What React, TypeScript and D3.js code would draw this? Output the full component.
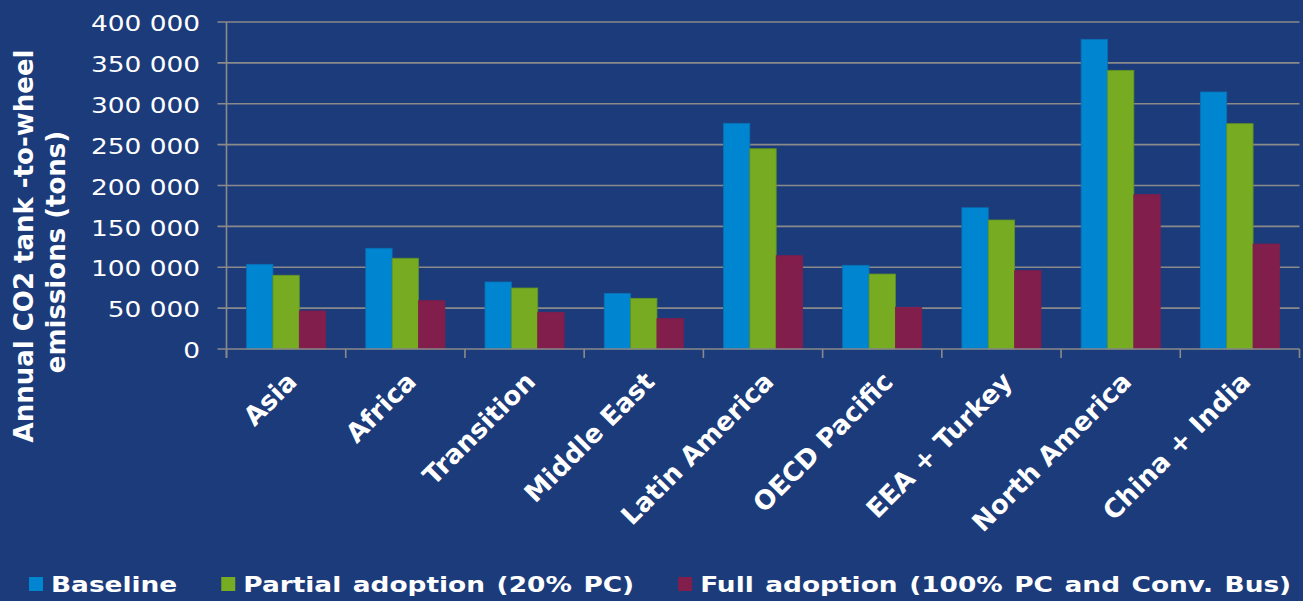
import React, { useEffect, useRef } from 'react';
import * as d3 from 'd3';

const categories = ['Asia', 'Africa', 'Transition', 'Middle East', 'Latin America', 'OECD Pacific', 'EEA + Turkey', 'North America', 'China + India'];
const seriesNames = ['Baseline', 'Partial adoption (20% PC)', 'Full adoption (100% PC and Conv. Bus)'];
const baselineValues = [103600, 123200, 82000, 68100, 276100, 102400, 172800, 378800, 314400];
const partialValues = [90200, 111000, 74600, 62000, 245000, 91700, 157800, 340900, 275600];
const fullValues = [46500, 59100, 44900, 37100, 114100, 51000, 95800, 188800, 128400];
const yTicks = [0, 50000, 100000, 150000, 200000, 250000, 300000, 350000, 400000];
const yTitleLines = ['Annual CO2 tank -to-wheel', 'emissions (tons)'];

const W = 1303;
const H = 601;
const BG = '#1C3B7B';
const COLORS = ['#0086D1', '#77AC22', '#821E4B'];
const STROKES = ['#0A6FB3', '#5F9222', '#821E4B'];
const GRID = '#8A8A8A';

export default function App() {
  const ref = useRef<SVGSVGElement>(null);

  useEffect(() => {
    const svg = d3.select(ref.current);
    svg.selectAll('*').remove();

    const left = 226.5, right = 1299.5, top = 22, bottom = 349;
    const series = [baselineValues, partialValues, fullValues];

    const x0 = d3.scaleBand<string>().domain(categories).range([left, right]).paddingInner(0).paddingOuter(0);
    const x1 = d3.scaleBand<number>().domain([0, 1, 2]).range([0, x0.bandwidth()]).paddingInner(0).paddingOuter(0.76);
    const y = d3.scaleLinear().domain([0, 400000]).range([bottom, top]);

    const fmt = d3.formatLocale({ thousands: '\u00a0', grouping: [3], decimal: '.', currency: ['', ''] }).format(',');

    svg.append('rect').attr('width', W).attr('height', H).attr('fill', BG);

    svg.append('g').selectAll('line').data(yTicks.filter(t => t > 0)).join('line')
      .attr('x1', left - 9).attr('x2', right)
      .attr('y1', d => y(d)).attr('y2', d => y(d))
      .attr('stroke', GRID).attr('stroke-width', 1.6);

    const g = svg.append('g');
    categories.forEach((c, i) => {
      series.forEach((s, j) => {
        const v = s[i];
        g.append('rect')
          .attr('x', (x0(c) as number) + (x1(j) as number))
          .attr('y', y(v))
          .attr('width', x1.bandwidth())
          .attr('height', y(0) - y(v))
          .attr('fill', COLORS[j])
          .attr('stroke', STROKES[j])
          .attr('stroke-width', 0.8);
      });
    });

    svg.append('line').attr('x1', left).attr('x2', left).attr('y1', top).attr('y2', bottom + 9)
      .attr('stroke', GRID).attr('stroke-width', 1.6);
    svg.append('line').attr('x1', left - 9).attr('x2', right).attr('y1', bottom).attr('y2', bottom)
      .attr('stroke', GRID).attr('stroke-width', 1.6);
    const boundaries = categories.map(c => x0(c) as number).concat([right]);
    svg.append('g').selectAll('line').data(boundaries).join('line')
      .attr('x1', d => d).attr('x2', d => d).attr('y1', bottom).attr('y2', bottom + 9)
      .attr('stroke', GRID).attr('stroke-width', 1.6);

    svg.append('g').selectAll('text').data(yTicks).join('text')
      .attr('transform', d => `translate(200,${y(d) + 1.5}) scale(1.2,1)`)
      .attr('text-anchor', 'end')
      .attr('dominant-baseline', 'central')
      .attr('font-family', 'DejaVu Sans')
      .attr('font-size', 22)
      .attr('fill', '#FFFFFF')
      .text(d => fmt(d));

    svg.append('g').selectAll('text').data(categories).join('text')
      .attr('transform', d => `translate(${(x0(d) as number) + x0.bandwidth() / 2 - 1},${370}) rotate(-45)`)
      .attr('text-anchor', 'end')
      .attr('dy', '0.72em')
      .attr('font-family', 'DejaVu Sans')
      .attr('font-weight', 'bold')
      .attr('font-size', 26)
      .attr('fill', '#FFFFFF')
      .text(d => d);

    const titlePos = [[33, 246], [65, 252]];
    yTitleLines.forEach((t, i) => {
      svg.append('text')
        .attr('transform', `translate(${titlePos[i][0]},${titlePos[i][1]}) rotate(-90)`)
        .attr('text-anchor', 'middle')
        .attr('font-family', 'DejaVu Sans')
        .attr('font-weight', 'bold')
        .attr('font-size', 26)
        .attr('fill', '#FFFFFF')
        .text(t);
    });

    const lg = svg.append('g');
    let lx = 29;
    const ly = 584;
    seriesNames.forEach((name, j) => {
      lg.append('rect').attr('x', lx).attr('y', ly - 7).attr('width', 14).attr('height', 14).attr('fill', COLORS[j]);
      const tx = lx + 22;
      const t = lg.append('text')
        .attr('transform', `translate(${tx},${ly}) scale(1.2,1)`)
        .attr('dominant-baseline', 'central')
        .attr('font-family', 'DejaVu Sans')
        .attr('font-weight', 'bold')
        .attr('font-size', 22)
        .attr('word-spacing', 2)
        .attr('fill', '#FFFFFF')
        .text(name);
      const w = (t.node() as SVGTextElement).getComputedTextLength() * 1.2;
      lx = tx + w + 44;
    });
  }, []);

  return (
    <svg ref={ref} width={W} height={H} style={{ position: 'absolute', left: 0, top: 0, display: 'block' }} />
  );
}
